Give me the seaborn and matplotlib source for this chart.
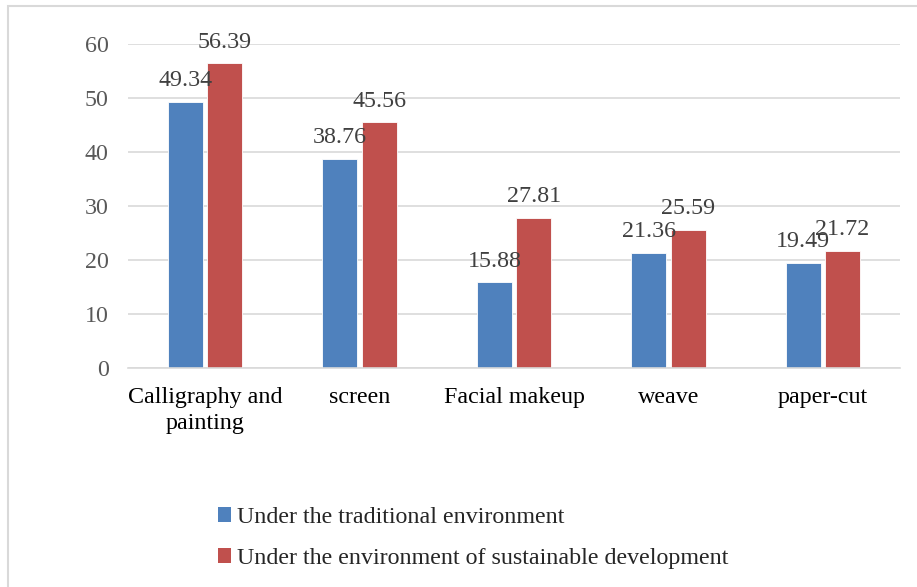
import matplotlib
matplotlib.use("Agg")
import matplotlib.pyplot as plt
import seaborn as sns
import pandas as pd
from matplotlib.patches import Rectangle, Patch

categories = ["Calligraphy and\npainting", "screen", "Facial makeup", "weave", "paper-cut"]
traditional = [49.34, 38.76, 15.88, 21.36, 19.49]
sustainable = [56.39, 45.56, 27.81, 25.59, 21.72]
series_names = ["Under the traditional environment",
                "Under the environment of sustainable development"]
colors = ["#4F81BD", "#C0504D"]

df = pd.DataFrame({
    "category": categories * 2,
    "value": traditional + sustainable,
    "series": [series_names[0]] * 5 + [series_names[1]] * 5,
})

sns.set_theme(style="white")
plt.rcParams["font.family"] = ["Liberation Serif", "DejaVu Serif"]

FS = 17.3

fig = plt.figure(figsize=(9.17, 5.87), dpi=100)
ax = fig.add_axes([128/917, 1 - 368/587, (900-128)/917, (368-44)/587])

sns.barplot(data=df, x="category", y="value", hue="series", palette=colors,
            width=0.51, gap=0.11, ax=ax, legend=False, saturation=1,
            edgecolor="white", linewidth=0.6)

ax.set_ylim(0, 60)
ax.set_yticks(range(0, 61, 10))
ax.yaxis.grid(True, color="#D9D9D9", linewidth=1.2)
ax.set_axisbelow(True)
for s in ["top", "right", "left"]:
    ax.spines[s].set_visible(False)
ax.spines["bottom"].set_color("#D9D9D9")
ax.spines["bottom"].set_linewidth(1.2)
ax.set_xlabel("")
ax.set_ylabel("")
ax.tick_params(axis="y", labelsize=FS, labelcolor="#595959", length=0, pad=14)
ax.tick_params(axis="x", labelsize=FS, labelcolor="black", length=0, pad=14)
for t in ax.get_xticklabels():
    t.set_linespacing(1.3)

for cont in ax.containers:
    ax.bar_label(cont, labels=[f"{v:.2f}" for v in cont.datavalues],
                 fontsize=FS, color="#404040", padding=7.5)

handles = [Patch(facecolor=c, edgecolor="none") for c in colors]
fig.legend(handles, series_names, loc="center left",
           bbox_to_anchor=(196/917, 1 - 538/587), frameon=False,
           fontsize=FS, handlelength=0.55, handleheight=0.55,
           handletextpad=0.25, labelspacing=0.85)

fig.patches.append(Rectangle((8/917, -0.1), 1.2, (1 - 6/587) + 0.1,
                             transform=fig.transFigure, fill=False,
                             edgecolor="#D9D9D9", linewidth=1.5))

fig.savefig("out.png", dpi=100, facecolor="white")
